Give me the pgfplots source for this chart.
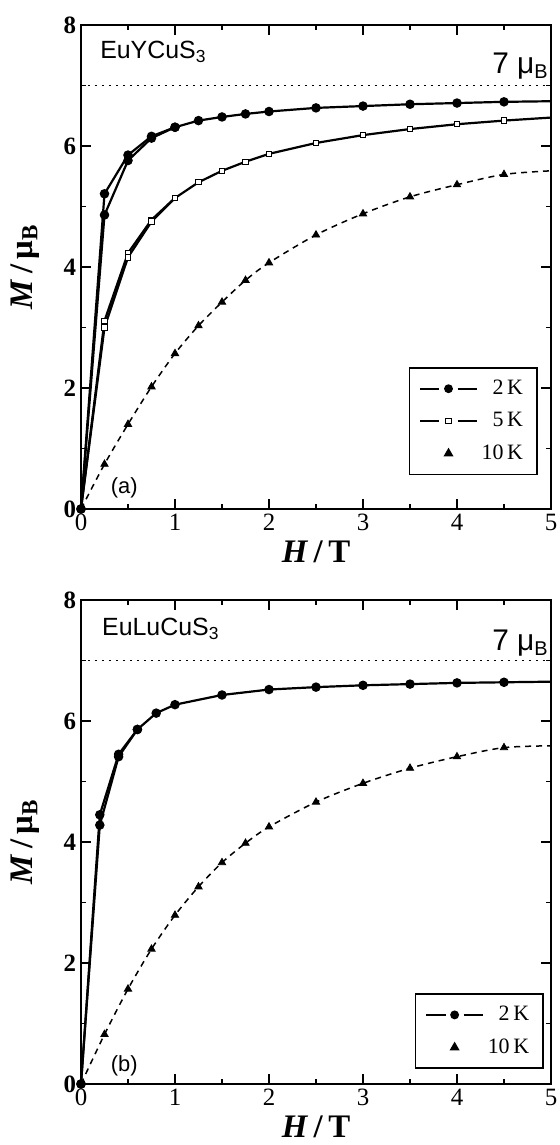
\documentclass[border=0pt]{standalone}
\usepackage{fontspec}
\setmainfont{Liberation Serif}
\newfontfamily\sans{Liberation Sans}
\usepackage{pgfplots}
\usepackage{pgfplotstable}
\pgfplotsset{compat=1.18}

% ---- top panel (EuYCuS3)
\pgfplotstableread{
x y
0 0
0.25 5.21
0.5 5.85
0.75 6.16
1 6.31
1.25 6.42
1.5 6.48
1.75 6.53
2 6.57
2.5 6.63
3 6.66
3.5 6.69
4 6.71
4.5 6.73
}\aTwoA
\pgfplotstableread{
x y
0 0
0.25 4.86
0.5 5.76
0.75 6.13
1 6.31
}\aTwoB
\pgfplotstableread{
x y
4.5 6.73
5 6.74
}\aTwoT
\pgfplotstableread{
x y
0 0
0.25 3.11
0.5 4.23
0.75 4.78
1 5.14
1.25 5.40
1.5 5.59
1.75 5.74
2 5.87
2.5 6.05
3 6.18
3.5 6.28
4 6.36
4.5 6.42
}\aFiveA
\pgfplotstableread{
x y
0 0
0.25 3.00
0.5 4.16
0.75 4.75
1 5.14
}\aFiveB
\pgfplotstableread{
x y
4.5 6.42
5 6.47
}\aFiveT
\pgfplotstableread{
x y
0.25 0.74
0.5 1.40
0.75 2.02
1 2.57
1.25 3.03
1.5 3.42
1.75 3.78
2 4.07
2.5 4.53
3 4.88
3.5 5.16
4 5.36
4.5 5.53
}\aTen
\pgfplotstableread{
x y
0 0
0.25 0.74
0.5 1.40
0.75 2.02
1 2.57
1.25 3.03
1.5 3.42
1.75 3.78
2 4.07
2.5 4.53
3 4.88
3.5 5.16
4 5.36
4.5 5.53
5 5.59
}\aTenL

% ---- bottom panel (EuLuCuS3)
\pgfplotstableread{
x y
0 0
0.2 4.45
0.4 5.45
0.6 5.86
0.8 6.13
1 6.27
1.5 6.43
2 6.52
2.5 6.56
3 6.59
3.5 6.61
4 6.63
4.5 6.64
}\bTwoA
\pgfplotstableread{
x y
0 0
0.2 4.28
0.4 5.41
0.6 5.86
}\bTwoB
\pgfplotstableread{
x y
4.5 6.64
5 6.65
}\bTwoT
\pgfplotstableread{
x y
0.25 0.82
0.5 1.57
0.75 2.23
1 2.79
1.25 3.26
1.5 3.66
1.75 3.98
2 4.25
2.5 4.66
3 4.97
3.5 5.22
4 5.41
4.5 5.56
}\bTen
\pgfplotstableread{
x y
0 0
0.25 0.82
0.5 1.57
0.75 2.23
1 2.79
1.25 3.26
1.5 3.66
1.75 3.98
2 4.25
2.5 4.66
3 4.97
3.5 5.22
4 5.41
4.5 5.56
5 5.59
}\bTenL

\pgfplotsset{
  panel/.style={
    scale only axis, width=235bp, height=242bp,
    xmin=0, xmax=5, ymin=0, ymax=8,
    xtick={0,...,5}, ytick={0,2,...,8},
    minor x tick num=1, minor y tick num=1,
    tick align=inside, major tick length=5bp, minor tick length=2.5bp,
    axis line style={line width=1.3bp},
    every tick/.style={line width=0.9bp, black},
    /pgf/number format/assume math mode=true,
    xticklabel style={font=\fontsize{12.5}{12.5}\selectfont, yshift=1bp},
    yticklabel style={font=\bfseries\fontsize{12.5}{12.5}\selectfont, xshift=1bp},
    clip=false,
    xlabel={\textbf{\textit{H}\,/\,T}},
    ylabel={\textbf{\textit{M}\,/\,μ\textsubscript{B}}},
    every axis x label/.style={at={(axis description cs:0.5,0)}, yshift=-21.5bp, anchor=center, inner sep=0pt, font=\fontsize{16.5}{16.5}\selectfont},
    every axis y label/.style={at={(axis description cs:0,0.5)}, xshift=-28bp, rotate=90, anchor=center, font=\fontsize{16.5}{16.5}\selectfont},
    legend style={draw=black, line width=0.8bp, font=\fontsize{11}{11}\selectfont, inner xsep=5bp, inner ysep=4bp, row sep=3.5bp, cells={anchor=east}},
    legend cell align=right,
    splitleg/.style={legend image code/.code={
        \draw[mark=none] (0cm,0cm) -- (0.34cm,0cm) (0.66cm,0cm) -- (1cm,0cm);
        \draw plot[only marks] coordinates {(0.5cm,0cm)};}},
    markleg/.style={legend image code/.code={
        \path[draw=none, fill=none] (0cm,0cm) rectangle (1cm,0cm);
        \path plot[only marks] coordinates {(0.5cm,0cm)};}},
    line2/.style={black, line width=1.1bp, mark=*, mark size=1.8bp, mark options={solid}},
    line5/.style={black, line width=1.1bp, mark=square*, mark size=1.35bp, mark options={solid, fill=white, line width=0.5bp}},
    tri/.style={black, only marks, mark=triangle*, mark size=2.1bp},
    fit/.style={black, line width=0.75bp, dash pattern=on 3bp off 2.5bp, smooth, no marks},
    sat/.style={black, line width=0.7bp, dash pattern=on 0.8bp off 2.7bp, no marks},
  }
}

\begin{document}
\begin{tikzpicture}
\useasboundingbox (-40.5bp,12.5bp) rectangle (239.5bp,-560bp);

\begin{axis}[panel, at={(0,0)}, anchor=north west,
  legend style={at={(0.972,0.070)}, anchor=south east}]
  \addlegendimage{line2, line width=0.8bp, splitleg}
  \addlegendentry{2\,K}
  \addlegendimage{line5, line width=0.8bp, splitleg}
  \addlegendentry{5\,K}
  \addlegendimage{tri, markleg}
  \addlegendentry{10\,K}
  \addplot[sat, forget plot] coordinates {(0,7) (5,7)};
  \addplot[fit, forget plot] table {\aTenL};
  \addplot[tri, forget plot] table {\aTen};
  \addplot[line5, forget plot] table {\aFiveA};
  \addplot[line5, forget plot] table {\aFiveB};
  \addplot[line5, no marks, forget plot] table {\aFiveT};
  \addplot[line2, forget plot] table {\aTwoA};
  \addplot[line2, forget plot] table {\aTwoB};
  \addplot[line2, no marks, forget plot] table {\aTwoT};
  \node[anchor=base west, font=\sans\fontsize{12.5}{12.5}\selectfont] at (axis cs:0.13,7.45) {EuYCuS\textsubscript{3}};
  \node[anchor=base east, font=\sans\fontsize{15}{15}\selectfont, inner sep=0pt] at (axis cs:4.97,7.20) {7 μ\raisebox{-0.35ex}{\fontsize{10}{10}\selectfont B}};
  \node[anchor=center, font=\sans\fontsize{11}{11}\selectfont] at (axis cs:0.46,0.35) {(a)};
\end{axis}

\begin{axis}[panel, at={(0,-287.5bp)}, anchor=north west,
  legend style={at={(0.985,0.031)}, anchor=south east}]
  \addlegendimage{line2, line width=0.8bp, splitleg}
  \addlegendentry{2\,K}
  \addlegendimage{tri, markleg}
  \addlegendentry{10\,K}
  \addplot[sat, forget plot] coordinates {(0,7) (5,7)};
  \addplot[fit, forget plot] table {\bTenL};
  \addplot[tri, forget plot] table {\bTen};
  \addplot[line2, forget plot] table {\bTwoA};
  \addplot[line2, forget plot] table {\bTwoB};
  \addplot[line2, no marks, forget plot] table {\bTwoT};
  \node[anchor=base west, font=\sans\fontsize{12.5}{12.5}\selectfont] at (axis cs:0.15,7.42) {EuLuCuS\textsubscript{3}};
  \node[anchor=base east, font=\sans\fontsize{15}{15}\selectfont, inner sep=0pt] at (axis cs:4.97,7.17) {7 μ\raisebox{-0.35ex}{\fontsize{10}{10}\selectfont B}};
  \node[anchor=center, font=\sans\fontsize{11}{11}\selectfont] at (axis cs:0.46,0.30) {(b)};
\end{axis}
\end{tikzpicture}
\end{document}
